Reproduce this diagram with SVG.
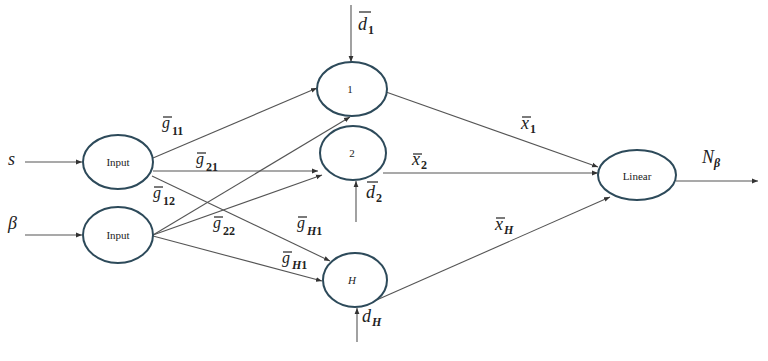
<svg xmlns="http://www.w3.org/2000/svg" width="768" height="361" viewBox="0 0 768 361">
<defs>
<marker id="ah" viewBox="0 0 10 10" refX="10" refY="5" markerWidth="6" markerHeight="6" orient="auto" markerUnits="userSpaceOnUse">
<path d="M0,1 L10,5 L0,9 z" fill="#333"/>
</marker>
<style>
.node{fill:#fff;stroke:#2d4a5a;stroke-width:2}
.nt{font-family:"Liberation Serif",serif;font-size:11px;fill:#222;text-anchor:middle}
.conn line{stroke:#555;stroke-width:1.1;fill:none}
.arr{marker-end:url(#ah)}
.m{font-family:"Liberation Serif",serif;font-style:italic;font-size:18px;fill:#222}
.g{font-size:16px}
.sub{font-family:"Liberation Serif",serif;font-style:normal;font-size:12px;font-weight:bold}
.subi{font-family:"Liberation Serif",serif;font-style:italic;font-size:12px;font-weight:bold}
.bar{stroke:#222;stroke-width:1.2}
</style>
</defs>
<rect width="768" height="361" fill="#fff"/>

<g class="conn" id="connectors">
<line class="arr" x1="25" y1="162" x2="82" y2="162"/>
<line class="arr" x1="25" y1="235" x2="82" y2="235"/>
<line class="arr" x1="153" y1="158" x2="317" y2="88"/>
<line class="arr" x1="153" y1="171" x2="318" y2="171"/>
<line class="arr" x1="152" y1="176" x2="330" y2="261"/>
<line class="arr" x1="153" y1="235" x2="350" y2="117"/>
<line class="arr" x1="153" y1="235" x2="322" y2="175"/>
<line class="arr" x1="153" y1="236" x2="322" y2="281"/>
<line class="arr" x1="351" y1="5" x2="351" y2="62"/>
<line class="arr" x1="356" y1="222" x2="356" y2="181"/>
<line class="arr" x1="357" y1="342" x2="357" y2="308"/>
<line class="arr" x1="386" y1="92" x2="598" y2="167"/>
<line class="arr" x1="383" y1="173" x2="598" y2="173"/>
<line class="arr" x1="363" y1="306" x2="610" y2="197"/>
<line class="arr" x1="676" y1="181" x2="758" y2="181"/>
</g>

<g id="input1"><ellipse class="node" cx="118" cy="162" rx="35" ry="27"/><text class="nt" x="118" y="166">Input</text></g>
<g id="input2"><ellipse class="node" cx="118" cy="235" rx="35" ry="28"/><text class="nt" x="118" y="239">Input</text></g>
<g id="hidden1"><ellipse class="node" cx="352" cy="89" rx="35" ry="27"/><text class="nt" x="350" y="93" font-size="10">1</text></g>
<g id="hidden2"><ellipse class="node" cx="353" cy="153" rx="33" ry="27"/><text class="nt" x="352" y="157" font-size="10">2</text></g>
<g id="hiddenH"><ellipse class="node" cx="355" cy="280" rx="32" ry="27"/><text class="nt" x="352" y="284" font-size="10" font-style="italic">H</text></g>
<g id="linear"><ellipse class="node" cx="637" cy="175" rx="39" ry="25"/><text class="nt" x="637" y="180" font-size="12">Linear</text></g>

<g id="labels">
<text class="m" x="8" y="165">s</text>
<text class="m" x="8" y="229">β</text>

<line class="bar" x1="163" y1="117" x2="172" y2="117"/>
<text class="m g" x="162" y="128">g<tspan class="sub" dx="2" dy="7">11</tspan></text>

<line class="bar" x1="197" y1="153" x2="206" y2="153"/>
<text class="m g" x="196" y="164">g<tspan class="sub" dx="2" dy="7">21</tspan></text>

<line class="bar" x1="154" y1="187" x2="163" y2="187"/>
<text class="m g" x="153" y="198">g<tspan class="sub" dx="2" dy="7">12</tspan></text>

<line class="bar" x1="214" y1="217" x2="223" y2="217"/>
<text class="m g" x="213" y="228">g<tspan class="sub" dx="2" dy="7">22</tspan></text>

<line class="bar" x1="298" y1="217" x2="307" y2="217"/>
<text class="m g" x="297" y="228">g<tspan class="subi" dx="2" dy="7">H</tspan><tspan class="sub">1</tspan></text>

<line class="bar" x1="283" y1="252" x2="292" y2="252"/>
<text class="m g" x="282" y="263">g<tspan class="subi" dx="2" dy="6">H</tspan><tspan class="sub">1</tspan></text>

<line class="bar" x1="359" y1="12" x2="371" y2="12"/>
<text class="m" x="358" y="30">d<tspan class="sub" dx="1" dy="4">1</tspan></text>

<line class="bar" x1="367" y1="182" x2="378" y2="182"/>
<text class="m" x="366" y="198">d<tspan class="sub" dx="1" dy="4">2</tspan></text>

<text class="m" x="362" y="322">d<tspan class="subi" dx="1" dy="4">H</tspan></text>

<line class="bar" x1="522" y1="117" x2="531" y2="117"/>
<text class="m" x="521" y="129">x<tspan class="sub" dx="1" dy="4">1</tspan></text>

<line class="bar" x1="413" y1="154" x2="422" y2="154"/>
<text class="m" x="412" y="165">x<tspan class="sub" dx="1" dy="4">2</tspan></text>

<line class="bar" x1="496" y1="218" x2="505" y2="218"/>
<text class="m" x="495" y="230">x<tspan class="subi" dx="1" dy="4">H</tspan></text>

<text class="m" x="702" y="163">N<tspan class="subi" dx="0" dy="4">β</tspan></text>
</g>
</svg>
